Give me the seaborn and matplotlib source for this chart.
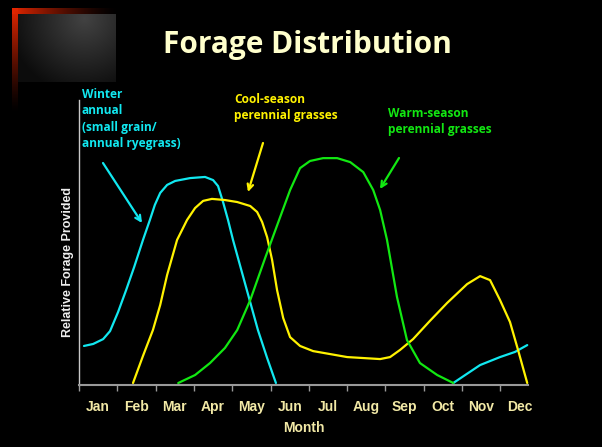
import numpy as np
import pandas as pd
import matplotlib
matplotlib.use('Agg')
import matplotlib.pyplot as plt
from matplotlib import font_manager
import seaborn as sns

# month positions: 0 = start of Jan, 1 = start of Feb, ...
months = ['Jan', 'Feb', 'Mar', 'Apr', 'May', 'Jun',
          'Jul', 'Aug', 'Sep', 'Oct', 'Nov', 'Dec']

# winter annual (small grain / annual ryegrass)
winter_x = [0.13, 0.37, 0.63, 0.81, 1.02, 1.23, 1.44, 1.67, 1.85, 1.98, 2.12, 2.30,
            2.51, 2.90, 3.29, 3.50, 3.63, 3.76, 3.89, 4.02, 4.33, 4.67, 4.91, 5.14]
winter_y = [13.7, 14.4, 16.1, 18.9, 25.6, 33.3, 41.4, 50.9, 57.9, 63.2, 67.4, 70.2,
            71.6, 72.6, 73.0, 71.9, 69.8, 64.2, 57.9, 50.9, 35.8, 19.3, 9.5, 0.7]
# fall regrowth of the winter annual
winter2_x = [9.77, 10.08, 10.47, 10.99, 11.38, 11.70]
winter2_y = [0.7, 3.5, 7.0, 9.8, 11.6, 14.0]

# cool-season perennial grasses
cool_x = [1.41, 1.67, 1.93, 2.12, 2.30, 2.56, 2.82, 3.03, 3.24, 3.47, 3.81, 4.13,
          4.47, 4.65, 4.78, 4.91, 5.04, 5.17, 5.33, 5.51, 5.77, 6.11, 7.00, 7.86,
          8.12, 8.38, 8.72, 9.16, 9.61, 10.13, 10.47, 10.73, 10.99, 11.25, 11.46, 11.70]
cool_y = [0.7, 10.2, 19.3, 28.1, 38.6, 50.9, 57.9, 62.1, 64.6, 65.3, 64.9, 64.2,
          62.8, 60.7, 57.2, 51.9, 43.9, 33.3, 23.5, 16.8, 13.7, 11.9, 9.8, 9.1,
          9.8, 12.3, 16.1, 22.5, 28.8, 35.4, 38.2, 36.8, 29.8, 22.1, 12.3, 0.7]

# warm-season perennial grasses
warm_x = [2.59, 3.03, 3.42, 3.81, 4.13, 4.47, 4.86, 5.25, 5.51, 5.77, 6.03, 6.37,
          6.74, 7.08, 7.42, 7.68, 7.86, 8.04, 8.30, 8.56, 8.90, 9.35, 9.77]
warm_y = [0.7, 3.5, 7.7, 13.0, 19.3, 29.8, 44.6, 58.9, 68.4, 76.1, 78.6, 79.6,
          79.6, 78.2, 74.7, 68.4, 61.4, 50.9, 30.9, 15.8, 7.7, 3.5, 0.7]

CYAN = '#11E8F0'
YELLOW = '#FFF200'
GREEN = '#12E812'
PALE = '#F2E9A6'

sns.set_theme(style='dark')


def pick_bold(candidates):
    # first family that really has a bold face installed
    for fam in candidates:
        try:
            f = font_manager.findfont(font_manager.FontProperties(family=fam, weight='bold'),
                                      fallback_to_default=False)
        except Exception:
            continue
        if 'bold' in f.lower():
            return fam
    return 'DejaVu Sans'


HEAD = pick_bold(['Open Sans', 'Lato', 'Noto Sans', 'Roboto', 'DejaVu Sans'])
plt.rcParams['font.family'] = [HEAD, 'DejaVu Sans']

W, H = 602, 447
fig = plt.figure(figsize=(W / 100, H / 100), dpi=100, facecolor='black')


def px(x, y):
    # top-left pixel coords -> figure pixels
    return (x, H - y)


# decorative corner (red frame + dark gray photo box)
deco = np.zeros((104, 106, 3))
rows = np.arange(104)[:, None]
cols = np.arange(106)[None, :]
red_v = np.clip(1 - rows / 104, 0, 1) ** 1.3
red_h = np.clip(1 - cols / 106, 0, 1) ** 1.5
deco[:, :6, 0] = (0.9 * red_v)[:, :1].repeat(6, axis=1)
deco[:, :6, 1] = (0.15 * red_v)[:, :1].repeat(6, axis=1)
deco[:6, :, 0] = np.maximum(deco[:6, :, 0], 0.9 * red_h.repeat(6, axis=0))
deco[:6, :, 1] = np.maximum(deco[:6, :, 1], 0.15 * red_h.repeat(6, axis=0))
g = 0.26 - 0.0028 * np.hypot(rows[6:74] - 10, cols[:, 6:104] - 72)
g = np.clip(g, 0.05, 0.3)
deco[6:74, 6:104, :] = g[:, :, None]
ax_d = fig.add_axes([12 / W, 1 - 112 / H, 106 / W, 104 / H])
ax_d.imshow(deco, aspect='auto', interpolation='bilinear')
ax_d.axis('off')

ax = fig.add_axes([79 / W, 1 - 385 / H, (528 - 79) / W, (385 - 100) / H])
ax.set_facecolor('black')

for xs, ys, col in [(winter_x, winter_y, CYAN), (winter2_x, winter2_y, CYAN),
                    (cool_x, cool_y, YELLOW), (warm_x, warm_y, GREEN)]:
    df = pd.DataFrame({'x': xs, 'y': ys})
    sns.lineplot(data=df, x='x', y='y', ax=ax, color=col, lw=1.6,
                 estimator=None, sort=False, solid_joinstyle='round',
                 solid_capstyle='round', clip_on=False)

ax.set_xlim(0, 11.72)
ax.set_ylim(0, 100)
ax.grid(False)
for s in ['top', 'right']:
    ax.spines[s].set_visible(False)
ax.spines['left'].set_color('#C8C8C8')
ax.spines['left'].set_linewidth(1.0)
ax.spines['bottom'].set_color('#999999')
ax.spines['bottom'].set_linewidth(1.5)

ax.set_yticks([])
ax.set_xticks(range(12))
ax.set_xticklabels([])
ax.tick_params(axis='x', which='major', length=4, width=1, color='#999999',
               direction='out', bottom=True)
ax.set_xticks([k + 0.5 for k in range(12)], minor=True)
ax.set_xticklabels(months, minor=True, fontsize=10, fontweight='bold',
                   color=PALE, family='Liberation Sans')
ax.tick_params(axis='x', which='minor', length=0, pad=10.5)
ax.set_xlabel('Month', fontsize=10, fontweight='bold', color=PALE,
              family='Liberation Sans', labelpad=5)
ax.set_ylabel('')

fig.text(68 / W, 1 - 262 / H, 'Relative Forage Provided', rotation=90,
         ha='center', va='center', color='#EEEEEE', fontsize=9,
         fontweight='bold', family='Liberation Sans')

fig.text(307 / W, 1 - 45 / H, 'Forage Distribution', ha='center',
         va='center', color='#FFFFCC', fontsize=21.5, fontweight='bold')

# series annotations
fig.text(82 / W, 1 - 88 / H, 'Winter\nannual\n(small grain/\nannual ryegrass)',
         ha='left', va='top', color=CYAN, fontsize=8.6, fontweight='bold',
         linespacing=1.33)
fig.text(234 / W, 1 - 93 / H, 'Cool-season\nperennial grasses', ha='left',
         va='top', color=YELLOW, fontsize=8.6, fontweight='bold',
         linespacing=1.33)
fig.text(388 / W, 1 - 107 / H, 'Warm-season\nperennial grasses', ha='left',
         va='top', color=GREEN, fontsize=8.6, fontweight='bold',
         linespacing=1.33)

for tail, head, col in [((103, 163), (142, 223), CYAN),
                        ((263, 143), (248, 192), YELLOW),
                        ((399, 158), (380, 189), GREEN)]:
    ax.annotate('', xy=px(*head), xytext=px(*tail), xycoords='figure pixels',
                textcoords='figure pixels',
                arrowprops=dict(arrowstyle='->', color=col, lw=1.6,
                                shrinkA=0, shrinkB=0, mutation_scale=10))

fig.savefig('out.png', dpi=100, facecolor='black')
